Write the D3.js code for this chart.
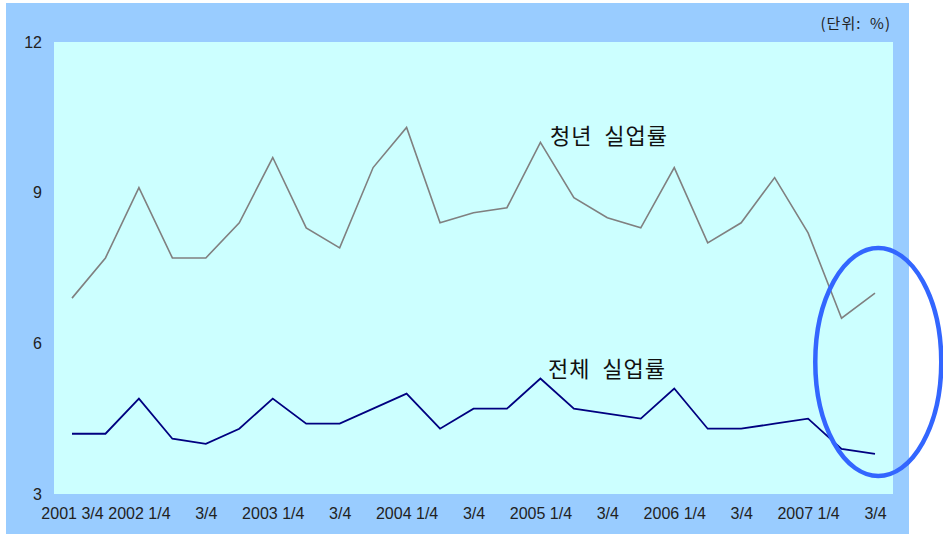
<!DOCTYPE html>
<html>
<head>
<meta charset="utf-8">
<script src="https://cdn.jsdelivr.net/npm/d3@7"></script>
<style>
  body { margin: 0; background: #fff; }
  text { font-family: 'Liberation Sans', Arial, sans-serif; }
  .kor { font-family: 'Noto Sans CJK KR', sans-serif; }
</style>
</head>
<body>
<svg width="943" height="534"></svg>
<script>
// quarters 2001 3/4 .. 2007 3/4
let quarters = ['2001 3/4', '2001 4/4',
  '2002 1/4', '2002 2/4', '2002 3/4', '2002 4/4',
  '2003 1/4', '2003 2/4', '2003 3/4', '2003 4/4',
  '2004 1/4', '2004 2/4', '2004 3/4', '2004 4/4',
  '2005 1/4', '2005 2/4', '2005 3/4', '2005 4/4',
  '2006 1/4', '2006 2/4', '2006 3/4', '2006 4/4',
  '2007 1/4', '2007 2/4', '2007 3/4']

// tick labels shown under every second quarter
let tickLabels = ['2001 3/4', '2002 1/4', '3/4', '2003 1/4', '3/4', '2004 1/4', '3/4',
  '2005 1/4', '3/4', '2006 1/4', '3/4', '2007 1/4', '3/4']

let youthRate = [6.9, 7.7, 9.1, 7.7, 7.7, 8.4, 9.7, 8.3, 7.9, 9.5, 10.3, 8.4, 8.6,
  8.7, 10.0, 8.9, 8.5, 8.3, 9.5, 8.0, 8.4, 9.3, 8.2, 6.5, 7.0]

let totalRate = [4.2, 4.2, 4.9, 4.1, 4.0, 4.3, 4.9, 4.4, 4.4, 4.7, 5.0, 4.3, 4.7,
  4.7, 5.3, 4.7, 4.6, 4.5, 5.1, 4.3, 4.3, 4.4, 4.5, 3.9, 3.8]

let yTicks = [3, 6, 9, 12]

let svg = d3.select('svg')

// outer frame
svg.append('rect')
  .attr('x', 6).attr('y', 3)
  .attr('width', 903).attr('height', 531)
  .attr('fill', '#99ccff')

let plot = {left: 54, top: 42, right: 893, bottom: 494}

svg.append('rect')
  .attr('x', plot.left).attr('y', plot.top)
  .attr('width', plot.right - plot.left).attr('height', plot.bottom - plot.top)
  .attr('fill', '#ccffff')

let x = d3.scalePoint()
  .domain(quarters)
  .range([72, 875])

let y = d3.scaleLinear()
  .domain([3, 12])
  .range([plot.bottom, plot.top])

// y axis labels
let yAxis = d3.axisLeft(y).tickValues(yTicks).tickSize(0).tickPadding(0)
svg.append('g')
  .attr('transform', 'translate(42,0)')
  .call(yAxis)
  .call(g => g.select('.domain').remove())
  .call(g => g.selectAll('text')
    .attr('font-size', 16)
    .attr('font-family', "'Liberation Sans', Arial, sans-serif")
    .attr('fill', '#222'))

// x axis labels (every second quarter)
let shown = quarters.filter((q, i) => i % 2 === 0)
let xAxis = d3.axisBottom(x)
  .tickValues(shown)
  .tickSize(0)
  .tickPadding(0)
  .tickFormat((d, i) => tickLabels[i])
svg.append('g')
  .attr('transform', 'translate(0,' + (plot.bottom + 14) + ')')
  .call(xAxis)
  .call(g => g.select('.domain').remove())
  .call(g => g.selectAll('text')
    .attr('font-size', 16)
    .attr('font-family', "'Liberation Sans', Arial, sans-serif")
    .attr('fill', '#222'))

let line = d3.line()
  .x((d, i) => x(quarters[i]))
  .y(d => y(d))

svg.append('path')
  .attr('d', line(youthRate))
  .attr('fill', 'none')
  .attr('stroke', '#808080')
  .attr('stroke-width', 1.6)

svg.append('path')
  .attr('d', line(totalRate))
  .attr('fill', 'none')
  .attr('stroke', '#000080')
  .attr('stroke-width', 1.8)

// series labels
svg.append('text')
  .attr('class', 'kor')
  .attr('x', 550).attr('y', 144)
  .attr('font-size', 22)
  .attr('letter-spacing', 1)
  .attr('fill', '#111')
  .style('white-space', 'pre')
  .text('청년  실업률')

svg.append('text')
  .attr('class', 'kor')
  .attr('x', 548).attr('y', 377)
  .attr('font-size', 22)
  .attr('letter-spacing', 1)
  .attr('fill', '#111')
  .style('white-space', 'pre')
  .text('전체  실업률')

svg.append('text')
  .attr('class', 'kor')
  .attr('x', 891).attr('y', 29)
  .attr('text-anchor', 'end')
  .attr('font-size', 15)
  .attr('letter-spacing', 1)
  .attr('fill', '#222')
  .style('white-space', 'pre')
  .text('(단위:  %)')

// highlight ellipse round the last two quarters
svg.append('ellipse')
  .attr('cx', (x(quarters[23]) + x(quarters[24])) / 2 + 20)
  .attr('cy', 362)
  .attr('rx', 63)
  .attr('ry', 114)
  .attr('fill', 'none')
  .attr('stroke', '#3366ff')
  .attr('stroke-width', 4.5)
</script>
</body>
</html>
